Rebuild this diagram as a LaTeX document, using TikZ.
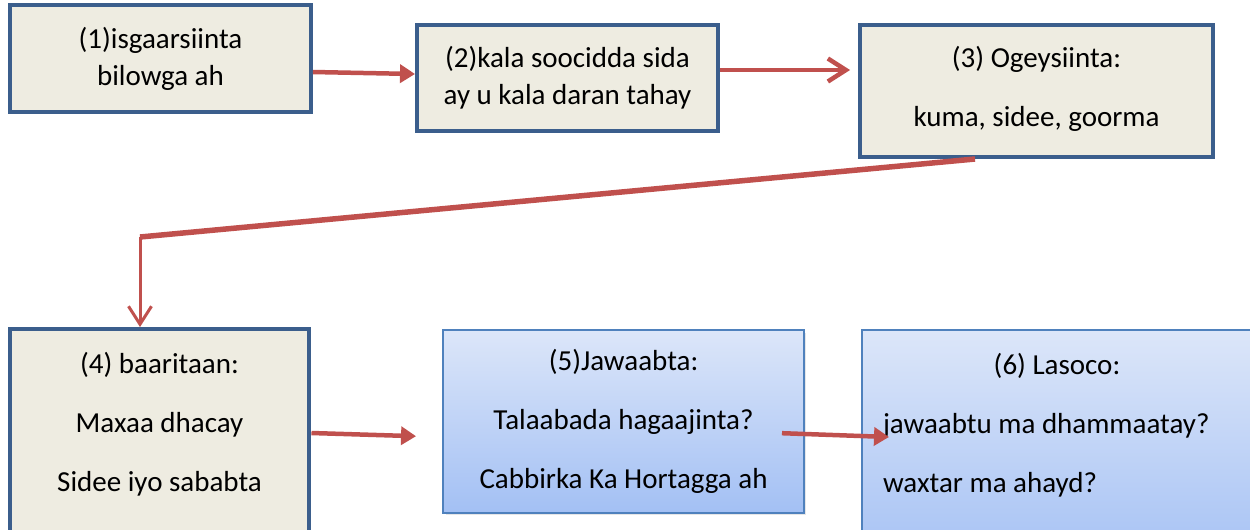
\documentclass[tikz,border=0pt]{standalone}
\usepackage{fontspec}
\setmainfont{Carlito}
\usetikzlibrary{arrows.meta,shadows}
\definecolor{boxfill}{HTML}{EEECE1}
\definecolor{boxline}{HTML}{3B5E8C}
\definecolor{arrowred}{HTML}{C0504D}
\definecolor{bluetop}{HTML}{DCE6F9}
\definecolor{bluebot}{HTML}{A3C0F4}
\definecolor{blueline}{HTML}{4F81BD}
\begin{document}
\begin{tikzpicture}[x=0.02cm,y=-0.02cm]
	\tikzstyle{stage}=[rectangle,draw=boxline,fill=boxfill,line width=0.08cm,align=center,inner sep=0pt,font=\fontsize{16.5}{21}\selectfont]
	\tikzstyle{answer}=[stage,draw=blueline,line width=0.04cm,top color=bluetop,bottom color=bluebot,drop shadow={opacity=0.2,shadow xshift=0.05cm,shadow yshift=-0.05cm}]
	\tikzstyle{flow}=[draw=arrowred,line width=0.09cm,-{Triangle[length=0.3cm,width=0.36cm]}]
	\tikzstyle{turn}=[draw=arrowred,line width=0.09cm,-{Straight Barb[length=0.36cm,width=0.46cm]}]
	\tikzstyle{link}=[draw=arrowred,line width=0.11cm]
	
	\useasboundingbox (0,0) rectangle (1250,529);
	\clip (0,0) rectangle (1250,529);
	
	\node[stage,minimum width=6.02cm,minimum height=2.14cm] (box1) at (160.5,58.5) {(1)isgaarsiinta\\bilowga ah};
	\node[stage,minimum width=6.02cm,minimum height=2.12cm] (box2) at (567.5,78) {(2)kala soocidda sida\\ay u kala daran tahay};
	\node[stage,minimum width=7.06cm,minimum height=2.64cm] (box3) at (1036.5,91) {(3) Ogeysiinta:\\[12.5pt]kuma, sidee, goorma\\[-15.5pt]\mbox{}};
	\node[stage,minimum width=6cm,minimum height=4.9cm] (box4) at (159.5,451.5) {(4) baaritaan:\\[12.5pt]Maxaa dhacay\\[12.5pt]Sidee iyo sababta\\[12.5pt]\mbox{}};
	\node[answer,minimum width=7.22cm,minimum height=3.66cm] (box5) at (623.5,421.5) {(5)Jawaabta:\\[12.5pt]Talaabada hagaajinta?\\[12.5pt]Cabbirka Ka Hortagga ah};
	\node[answer,align=flush left,text width=6.96cm,inner xsep=0.42cm,minimum height=4.9cm] (box6) at (1057,452.5) {\makebox[6.96cm]{(6) Lasoco:}\\[12.5pt]jawaabtu ma dhammaatay?\\[12.5pt]waxtar ma ahayd?\\[12.5pt]\mbox{}};
	
	\coordinate (bend) at (140,237);
	\draw[flow] (box1.east |- 0,72) -- (box2.west |- 0,74);
	\draw[turn,shorten >=0.16cm] (box2.east |- 0,70) -- (box3.west |- 0,70);
	\draw[link] (box3.south -| 975,0) -- (bend);
	\draw[turn,line width=0.06cm] (bend) -- (bend |- box4.north);
	\draw[flow,shorten >=0.52cm] (box4.east |- 0,433) -- (box5.west |- 0,437);
	\draw[flow,shorten <=-0.46cm,shorten >=-0.56cm] (box5.east |- 0,434) -- (box6.west |- 0,436);
\end{tikzpicture}
\end{document}
